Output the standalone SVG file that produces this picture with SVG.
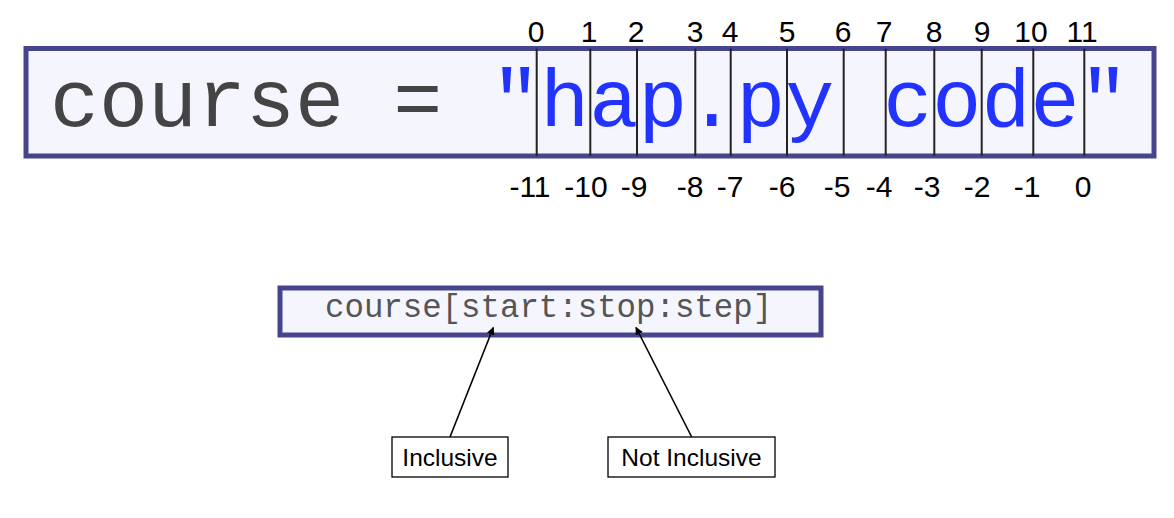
<svg xmlns="http://www.w3.org/2000/svg" width="1174" height="518" viewBox="0 0 1174 518">
<style>
.box{fill:#f5f5fd;stroke:#47448e;stroke-width:5}
.mono{font-family:"Liberation Mono","Courier New",monospace}
.sans{font-family:"Liberation Sans",Arial,Helvetica,sans-serif;fill:#000}
.num{font-size:30px;text-anchor:middle}
.div{stroke:#222;stroke-width:2}
.lbl{fill:#fff;stroke:#000;stroke-width:1.3}
.conn{stroke:#000;stroke-width:1.6;fill:none}
</style>
<defs>
<marker id="ah" viewBox="0 0 10 10" refX="9" refY="5" markerWidth="8" markerHeight="8" markerUnits="userSpaceOnUse" orient="auto">
<path d="M0,0 L10,5 L0,10 Z" fill="#000"/>
</marker>
</defs>
<rect width="1174" height="518" fill="#fff"/>
<g id="main-box">
<rect class="box" x="26" y="48.5" width="1128" height="107.5"/>
<text class="mono" x="50" y="126" font-size="81.7" fill="#444">course = <tspan fill="#2233ff">"hap.py code"</tspan></text>
<g class="div">
<line x1="536.7" y1="48.5" x2="536.7" y2="156"/>
<line x1="590.3" y1="48.5" x2="590.3" y2="156"/>
<line x1="637" y1="48.5" x2="637" y2="156"/>
<line x1="695.3" y1="48.5" x2="695.3" y2="156"/>
<line x1="730.7" y1="48.5" x2="730.7" y2="156"/>
<line x1="787" y1="48.5" x2="787" y2="156"/>
<line x1="843.7" y1="48.5" x2="843.7" y2="156"/>
<line x1="885.7" y1="48.5" x2="885.7" y2="156"/>
<line x1="934.3" y1="48.5" x2="934.3" y2="156"/>
<line x1="981.7" y1="48.5" x2="981.7" y2="156"/>
<line x1="1033.3" y1="48.5" x2="1033.3" y2="156"/>
<line x1="1084.3" y1="48.5" x2="1084.3" y2="156"/>
</g>
</g>
<g id="positive-indices" class="sans num">
<text x="536" y="42">0</text>
<text x="589" y="42">1</text>
<text x="636" y="42">2</text>
<text x="695" y="42">3</text>
<text x="730" y="42">4</text>
<text x="787" y="42">5</text>
<text x="843" y="42">6</text>
<text x="884" y="42">7</text>
<text x="934" y="42">8</text>
<text x="982" y="42">9</text>
<text x="1031" y="42">10</text>
<text x="1082" y="42">11</text>
</g>
<g id="negative-indices" class="sans num">
<text x="530" y="197">-11</text>
<text x="586" y="197">-10</text>
<text x="634" y="197">-9</text>
<text x="690" y="197">-8</text>
<text x="730" y="197">-7</text>
<text x="782" y="197">-6</text>
<text x="837" y="197">-5</text>
<text x="879" y="197">-4</text>
<text x="927" y="197">-3</text>
<text x="977" y="197">-2</text>
<text x="1027" y="197">-1</text>
<text x="1083" y="197">0</text>
</g>
<g id="slice-box">
<rect class="box" x="280" y="288" width="541" height="47"/>
<text class="mono" x="325" y="317" font-size="32.4" fill="#555">course[start:stop:step]</text>
</g>
<g id="inclusive">
<rect class="lbl" x="392" y="437" width="116" height="40"/>
<text class="sans" x="450" y="466" font-size="24.5" text-anchor="middle">Inclusive</text>
</g>
<g id="not-inclusive">
<rect class="lbl" x="608" y="437" width="167" height="40"/>
<text class="sans" x="691.5" y="466" font-size="24.5" text-anchor="middle">Not Inclusive</text>
</g>
<g id="connectors">
<line class="conn" x1="450" y1="437" x2="493.3" y2="327.5" marker-end="url(#ah)"/>
<line class="conn" x1="691.7" y1="437" x2="636" y2="327.5" marker-end="url(#ah)"/>
</g>
</svg>
